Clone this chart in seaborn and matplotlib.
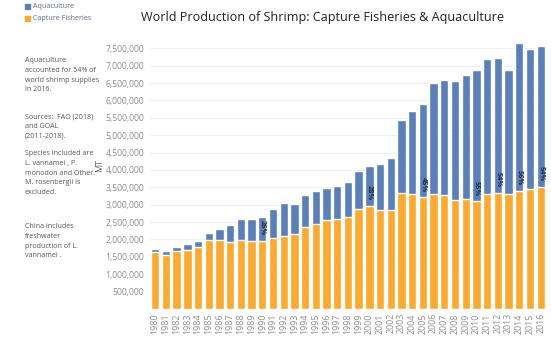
import matplotlib
matplotlib.use("Agg")
import matplotlib.pyplot as plt
import seaborn as sns
import pandas as pd
from matplotlib.ticker import FuncFormatter

years = list(range(1980, 2017))
capture = [1.63, 1.55, 1.675, 1.70, 1.78, 1.98, 1.98, 1.93, 1.99, 1.96,
           1.96, 2.04, 2.11, 2.15, 2.37, 2.44, 2.56, 2.60, 2.65, 2.89,
           2.96, 2.84, 2.84, 3.35, 3.30, 3.21, 3.32, 3.28, 3.13, 3.16,
           3.10, 3.30, 3.35, 3.30, 3.40, 3.45, 3.51]
aquaculture = [0.085, 0.12, 0.105, 0.17, 0.18, 0.22, 0.33, 0.50, 0.60, 0.63,
               0.70, 0.85, 0.93, 0.86, 0.91, 0.96, 0.93, 0.93, 0.99, 1.08,
               1.15, 1.33, 1.50, 2.08, 2.39, 2.68, 3.17, 3.31, 3.43, 3.56,
               3.77, 3.90, 3.87, 3.57, 4.26, 4.02, 4.06]
label_years = [1990, 2000, 2005, 2010, 2012, 2014, 2016]
label_texts = ["26%", "28%", "45%", "55%", "54%", "56%", "54%"]
yticks = [500000 * i for i in range(1, 16)]

BLUE = "#5b80b7"
ORANGE = "#f9aa33"

df = pd.DataFrame({
    "Year": [str(y) for y in years],
    "Capture": [c * 1e6 for c in capture],
    "Aquaculture": [a * 1e6 for a in aquaculture],
})
df["Total"] = df["Capture"] + df["Aquaculture"]

sns.set_theme(style="white")
plt.rcParams["font.family"] = ["Open Sans", "DejaVu Sans"]

fig = plt.figure(figsize=(5.51, 3.38), dpi=100)
ax = fig.add_axes([0.272, 0.0858, 0.719, 0.802])

sns.barplot(data=df, x="Year", y="Total", color=BLUE, width=0.78,
            saturation=1, ax=ax, zorder=2)
sns.barplot(data=df, x="Year", y="Capture", color=ORANGE, width=0.78,
            saturation=1, ax=ax, zorder=3)

ax.set_xlim(-0.5, len(years) - 0.5)
ax.set_ylim(0, 7.8e6)
ax.set_yticks(yticks)
ax.yaxis.set_major_formatter(FuncFormatter(lambda v, p: f"{int(v):,}"))
ax.grid(axis="y", color="#f0f0f0", linewidth=0.8, zorder=0)
ax.set_axisbelow(True)
for s in ax.spines.values():
    s.set_visible(False)
ax.tick_params(axis="y", labelsize=6.2, colors="#8f8f8f", length=0, pad=4)
ax.tick_params(axis="x", labelsize=6.4, colors="#8f8f8f", length=0, pad=3,
               labelrotation=90)
ax.set_xlabel("")
ax.set_ylabel("MT", fontsize=6.5, color="#666666")
ax.yaxis.set_label_coords(-0.116, 0.53)

for yr, txt in zip(label_years, label_texts):
    i = years.index(yr)
    ax.annotate(txt, xy=(i, df["Capture"].iloc[i]), xytext=(0, 4),
                textcoords="offset points", rotation=-90, ha="center",
                va="bottom", fontsize=5.3, fontweight="bold", color="#1f2d4a",
                zorder=5)

fig.text(322 / 551, 1 - 17 / 338,
         "World Production of Shrimp: Capture Fisheries & Aquaculture",
         ha="center", va="center", fontsize=9.1, color="#222222")

# legend
fig.patches.append(plt.Rectangle((25 / 551, 1 - 9 / 338), 5 / 551, 5 / 338,
                                 transform=fig.transFigure, color=BLUE))
fig.patches.append(plt.Rectangle((25 / 551, 1 - 21 / 338), 5 / 551, 5 / 338,
                                 transform=fig.transFigure, color=ORANGE))
fig.text(33 / 551, 1 - 6.5 / 338, "Aquaculture", fontsize=5.1, color="#5a6a80",
         va="center")
fig.text(33 / 551, 1 - 18.5 / 338, "Capture Fisheries", fontsize=5.1,
         color="#5a6a80", va="center")

notes = [
    "Aquaculture\naccounted for 54% of\nworld shrimp supplies\nin 2016.",
    "Sources:  FAO (2018)\nand GOAL\n(2011-2018).",
    "Species included are\nL. vannamei , P.\nmonodon and Other.\nM. rosenbergii is\nexcluded.",
    "China includes\nfreshwater\nproduction of L.\nvannamei .",
]
tops = [57, 113, 150, 223]
for t, y in zip(notes, tops):
    fig.text(25 / 551, 1 - y / 338, t, fontsize=5.1, color="#555555",
             va="top", ha="left", linespacing=1.55)

fig.savefig("out.png", dpi=100, facecolor="white")
